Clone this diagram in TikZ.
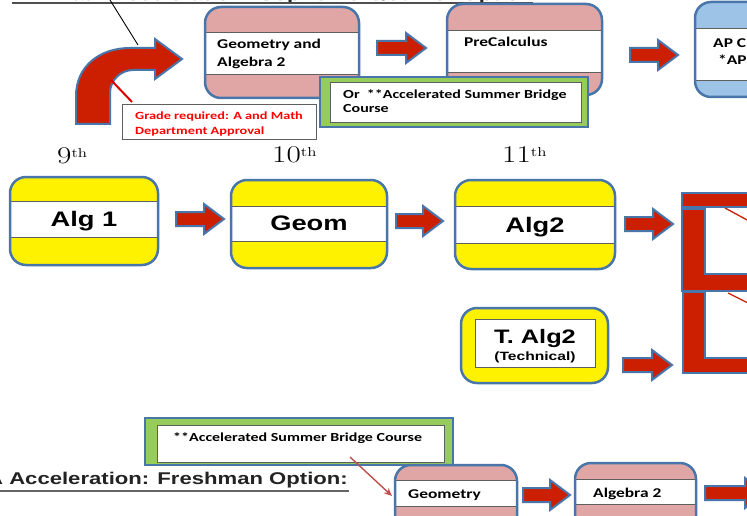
\documentclass[tikz,border=0pt]{standalone}
\usepackage{fontspec}
\usetikzlibrary{arrows.meta}
\newfontfamily\arialf{Liberation Sans}
\newfontfamily\calf{Carlito}
\definecolor{arrred}{RGB}{204,30,0}
\definecolor{bord}{RGB}{72,118,170}
\definecolor{pinkf}{RGB}{224,166,166}
\definecolor{greenf}{RGB}{150,205,90}
\definecolor{apblue}{RGB}{157,195,230}
\definecolor{bandline}{RGB}{95,95,95}
\definecolor{thinred}{RGB}{192,80,77}
\definecolor{titlegray}{RGB}{35,35,35}
\newcommand\sx[1]{\scalebox{1.3}[1]{#1}}
\newcommand\barrow[3]{%
  \draw[barr] (#1,{#3-7}) -- ({#2-20},{#3-7}) -- ({#2-20},{#3-15}) -- (#2,#3)
    -- ({#2-20},{#3+15}) -- ({#2-20},{#3+7}) -- (#1,{#3+7}) -- cycle;}
\newcommand\bandbox[7]{% fill, x1,y1,x2,y2, band y1, band y2
  \fill[#1, rounded corners=16pt] (#2,#3) rectangle (#4,#5);
  \draw[band] (#2,#6) rectangle (#4,#7);
  \draw[boxline] (#2,#3) rectangle (#4,#5);}
\tikzset{
  boxline/.style={draw=bord, line width=2.5pt, rounded corners=16pt},
  band/.style={fill=white, draw=bandline, line width=0.8pt},
  barr/.style={fill=arrred, draw=bord, line width=2pt, line join=miter},
  cal/.style={inner sep=0pt, anchor=base west, font=\calf\bfseries\fontsize{13.4}{16}\selectfont},
  calsm/.style={inner sep=0pt, anchor=base west, font=\calf\bfseries\fontsize{11}{14}\selectfont},
  calbr/.style={inner sep=0pt, anchor=base west, font=\calf\bfseries\fontsize{12.3}{14}\selectfont},
  ari/.style={inner sep=0pt, anchor=base, font=\arialf\bfseries\fontsize{21}{24}\selectfont},
  ttl/.style={inner sep=0pt, anchor=base east, text=titlegray, font=\arialf\bfseries\fontsize{17}{20}\selectfont},
  grd/.style={inner sep=0pt, anchor=base west, font=\fontsize{24}{26}\selectfont},
}
\newcommand\grade[1]{\sx{#1\raisebox{6pt}{\fontsize{13}{13}\selectfont th}}}
\begin{document}
\begin{tikzpicture}[x=1pt,y=-1pt]
\clip (0,0) rectangle (747,516);
\fill[white] (0,0) rectangle (747,516);

% ---- top title (cut off)
\node[ttl] (toptitle) at (533,0.6) {\sx{A Math Acceleration: Sophomore/Junior Option}};
\draw[titlegray!80, line width=1.3pt] (12,3) -- (533,3);
\coordinate (tline) at (110,0);
\coordinate (tlineend) at (138,45);
\draw[black, line width=0.9pt] (tline) -- (tlineend);

% ---- curved arrow
\draw[barr, line join=miter]
  (76,124) -- (76,96) .. controls (76,66) and (100,48) .. (130,48) -- (155,48) -- (155,39)
  -- (182,59) -- (155,79) -- (155,70) -- (133,70)
  .. controls (121,70) and (110,80) .. (110,93) -- (110,124) -- cycle;
\coordinate (rl1) at (111,80);
\coordinate (rl2) at (132,102);
\draw[red!85!black, line width=2pt] (rl1) -- (rl2);

% grade box
\draw[fill=white, draw=bandline, line width=1pt] (122,105) rectangle (316,140);
\begin{scope}
\clip (122,105) rectangle (316,139.5);
\node[calsm, text=red] (g1) at (135,120) {\sx{Grade required: A and Math}};
\node[calsm, text=red] (g2) at (135,135) {\sx{Department Approval}};
\end{scope}

% ---- top row boxes
\bandbox{pinkf}{205}{7}{359}{98}{32}{74}
\node[cal] (ga1) at (217,49) {\sx{Geometry and}};
\node[cal] (ga2) at (217,67) {\sx{Algebra 2}};
\barrow{377}{426}{48}
\bandbox{pinkf}{447}{4}{602}{95}{30}{72}
\node[cal] (pc) at (464,47) {\sx{PreCalculus}};
\barrow{630}{678}{55}
\bandbox{apblue}{695}{2}{820}{97}{28}{80}
\node[cal] (ap1) at (713,48) {\sx{AP C}};
\node[cal] (ap2) at (718,65) {\sx{*AP}};

% green bridge 1
\draw[fill=greenf, draw=bord, line width=2.5pt] (320,77) rectangle (588,127);
\draw[fill=white, draw=bandline, line width=1pt] (330,83) rectangle (581,123);
\node[calbr] (br1a) at (343,99) {\sx{Or\ \ **Accelerated Summer Bridge}};
\node[calbr] (br1b) at (343,113) {\sx{Course}};

% ---- grade labels
\node[grd] (g9) at (57,164) {\grade{9}};
\node[grd] (g10) at (272,163) {\grade{10}};
\node[grd] (g11) at (502,163) {\grade{11}};

% ---- middle row
\bandbox{yellow}{10}{177}{158}{265}{201}{237}
\node[ari] (alg1) at (84,226) {\sx{Alg 1}};
\barrow{176}{224}{219}
\bandbox{yellow}{231}{180}{387}{268}{206}{241}
\node[ari] (geom) at (309,230) {\sx{Geom}};
\barrow{396}{443}{221}
\bandbox{yellow}{455}{180}{615}{269}{206}{243}
\node[ari] (alg2) at (535,232) {\sx{Alg2}};
\barrow{625}{673}{224}

% T. Alg2
\draw[fill=yellow, draw=bord, line width=2.5pt, rounded corners=16pt] (461,308) rectangle (608,383);
\draw[fill=white, draw=bandline, line width=1pt] (475,319) rectangle (595,367);
\node[ari, font=\arialf\bfseries\fontsize{19.5}{22}\selectfont] (talg) at (535,343) {\sx{T. Alg2}};
\node[ari, font=\arialf\bfseries\fontsize{12}{14}\selectfont] (tech) at (535,360) {\sx{(Technical)}};
\barrow{623}{672}{365}

% big red shapes at right
\draw[barr] (682,193) rectangle (760,207);
\draw[barr] (682,209) -- (705,209) -- (705,274) -- (760,274) -- (760,291) -- (682,291) -- cycle;
\draw[barr] (683,292) -- (705,292) -- (705,358) -- (760,358) -- (760,373) -- (683,373) -- cycle;
\coordinate (d1a) at (725,208); \coordinate (d1b) at (760,227);
\coordinate (d2a) at (728,293); \coordinate (d2b) at (760,309);
\draw[arrred, line width=1.3pt] (d1a) -- (d1b);
\draw[arrred, line width=1.3pt] (d2a) -- (d2b);

% ---- bottom section
\draw[fill=greenf, draw=bord, line width=2.5pt] (145,418) rectangle (453,465);
\draw[fill=white, draw=bandline, line width=1pt] (157,425) rectangle (444,462);
\node[calbr] (br2) at (173,441) {\sx{**Accelerated Summer Bridge Course}};

\node[ttl] (bottitle) at (348,484) {\sx{A Acceleration: Freshman Option:}};
\draw[titlegray!70, line width=1.4pt] (0,491) -- (349,491);

\bandbox{pinkf}{395}{465}{517}{545}{480}{506}
\node[cal] (geo) at (408,498) {\sx{Geometry}};
\coordinate (ta) at (350,457);
\coordinate (tb) at (392,496);
\draw[thinred, line width=1.4pt, -{Stealth[length=8pt,width=7pt]}] (ta) -- (tb);
\barrow{523}{570}{495}
\bandbox{pinkf}{575}{463}{696}{545}{479}{504}
\node[cal] (a2) at (593,497) {\sx{Algebra 2}};
\barrow{705}{765}{493}
\end{tikzpicture}
\end{document}
